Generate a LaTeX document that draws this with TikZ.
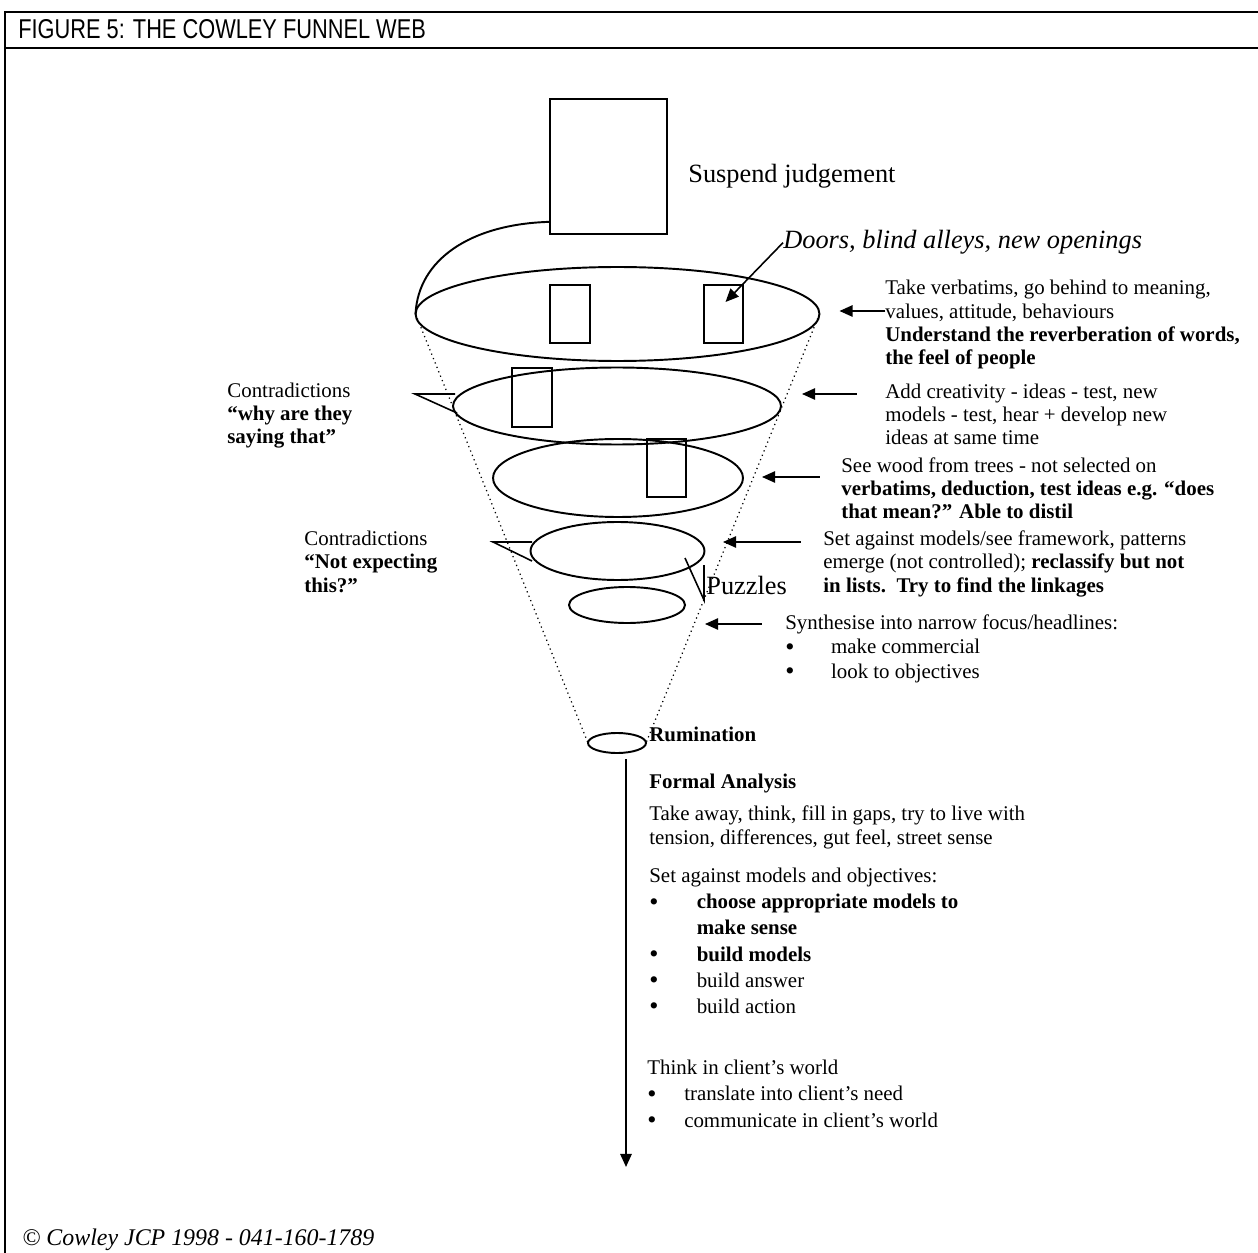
\documentclass[tikz,border=0pt]{standalone}
\usepackage{fontspec}
\usepackage{graphicx}
\setmainfont{Liberation Serif}
\newfontfamily\headfont{Liberation Sans}
\usetikzlibrary{shapes.geometric,arrows.meta,positioning,calc}
\newcommand{\bodyfont}{\fontsize{11.9pt}{13.3pt}\selectfont}
\newcommand{\bigfont}{\fontsize{15pt}{17pt}\selectfont}
\newcommand{\bul}[2]{\makebox[#1][l]{\smash{\raisebox{-0.2ex}{\scalebox{1.25}{\textbullet}}}}#2}

\begin{document}
\begin{tikzpicture}[x=0.02cm,y=-0.02cm,
  ring/.style={draw,ellipse,line width=1.1pt,inner sep=0pt,outer sep=0pt},
  door/.style={draw,rectangle,line width=1.1pt,inner sep=0pt,outer sep=0pt},
  note/.style={anchor=base west,align=left,inner sep=0pt,font=\bodyfont},
  arr/.style={-{Triangle[length=7.5pt,width=6.5pt]},line width=0.9pt},
  varr/.style={-{Triangle[length=7.5pt,width=6.5pt]},line width=1.1pt},
  cone/.style={dotted,line width=0.7pt},
  frame/.style={line width=1.2pt},
]
\useasboundingbox (0,0) rectangle (1258,1253);
% header
\draw[frame] (1258,12) -- (5,12) -- (5,1253);
\draw[frame] (5,48) -- (1258,48);
\node[note,font=\headfont\fontsize{15.5pt}{18pt}\selectfont] (title) at (18,39)
  {\scalebox{0.8}[1]{FIGURE 5: THE COWLEY FUNNEL WEB}};

% top box
\node[door,minimum width=2.34cm,minimum height=2.7cm] (judge) at (608.5,166.5) {};
\node[note,font=\bigfont] (suspend) at (688,183) {Suspend judgement};
\node[note,font=\bigfont\itshape] (doors) at (783,249)
  {Doors, blind alleys, new openings};

% funnel rings
\node[ring,minimum width=8.08cm,minimum height=1.88cm] (lvl1) at (617.5,314) {};
\node[ring,minimum width=6.56cm,minimum height=1.54cm] (lvl2) at (617,406) {};
\node[ring,minimum width=5cm,minimum height=1.56cm] (lvl3) at (618,478) {};
\node[ring,minimum width=3.48cm,minimum height=1.16cm] (lvl4) at (617.5,551) {};
\node[ring,minimum width=2.32cm,minimum height=0.72cm] (lvl5) at (627,605) {};
\node[ring,minimum width=1.16cm,minimum height=0.4cm] (rum) at (617,743) {};

% doors inside the rings
\node[door,minimum width=0.8cm,minimum height=1.16cm] (dA) at (570,314) {};
\node[door,minimum width=0.78cm,minimum height=1.16cm] (dB) at (723.5,314) {};
\node[door,minimum width=0.8cm,minimum height=1.18cm] (dC) at (532,397.5) {};
\node[door,minimum width=0.78cm,minimum height=1.16cm] (dD) at (666.5,468) {};

% funnel sides
\draw[cone] (lvl1.west) -- (rum.west);
\draw[cone] (lvl1.east) -- (rum.east);
\draw[line width=1.1pt] ($(judge.south west)!0.09!(judge.north west)$)
  .. controls (470,224) and (418,260) .. (lvl1.west);
\draw[arr] (doors.west) -- ($(dB.center)+(2,-12)$);

% notes on the right (base = last line)
\node[note] (t1) at (885,365) {Take verbatims, go behind to meaning,\\
  values, attitude, behaviours\\
  \textbf{Understand the reverberation of words,}\\
  \textbf{the feel of people}};
\node[note] (t2) at (885,445) {Add creativity - ideas - test, new\\
  models - test, hear + develop new\\
  ideas at same time};
\node[note] (t3) at (841,519) {See wood from trees - not selected on\\
  \textbf{verbatims, deduction, test ideas e.g. “does}\\
  \textbf{that mean?” Able to distil}};
\node[note] (t4) at (823,592) {Set against models/see framework, patterns\\
  emerge (not controlled); \textbf{reclassify but not}\\
  \textbf{in lists.\ \ Try to find the linkages}};
\node[note,font=\fontsize{11.9pt}{13.9pt}\selectfont] (t5) at (785,678)
  {Synthesise into narrow focus/headlines:\\
  \bul{26pt}{make commercial}\\
  \bul{26pt}{look to objectives}};

\draw[arr] ($(lvl1.east)+(66,-3)$) -- ($(lvl1.east)+(20,-3)$);
\draw[arr] ($(lvl2.east)+(76,-12)$) -- ($(lvl2.east)+(21,-12)$);
\draw[arr] ($(lvl3.east)+(77,-1)$) -- ($(lvl3.east)+(19,-1)$);
\draw[arr] ($(lvl4.east)+(96.5,-9)$) -- ($(lvl4.east)+(18.5,-9)$);
\draw[arr] ($(lvl5.east)+(77,19)$) -- ($(lvl5.east)+(20,19)$);

% contradictions and puzzles
\node[note] (con1) at (227,444) {Contradictions\\
  \textbf{“why are they}\\
  \textbf{saying that”}};
\node[note] (con2) at (304,592) {Contradictions\\
  \textbf{“Not expecting}\\
  \textbf{this?”}};
\coordinate (cp1) at (415,394);
\draw[line width=0.9pt] ($(lvl2.west)+(2,-12)$) -- (cp1) -- ($(lvl2.west)+(4,7)$);
\coordinate (cp2) at (493,542);
\draw[line width=0.9pt] ($(lvl4.west)+(1.5,-9)$) -- (cp2) -- ($(lvl4.west)+(1.5,10)$);
\node[note,font=\fontsize{15pt}{17pt}\selectfont] (puz) at (706,594) {Puzzles};
\coordinate (pz) at (704,600);
\draw[line width=0.9pt] (685,558) -- (pz) -- (704,565);

% below the funnel
\node[note,font=\bodyfont\bfseries] (rumtxt) at (649,741) {Rumination};
\coordinate (down) at (626,1167);
\draw[varr] ($(rum.south)+(9,6)$) -- (down);
\node[note,font=\bodyfont\bfseries] (formal) at (649,788) {Formal Analysis};
\node[note,font=\fontsize{11.9pt}{13.6pt}\selectfont] (away) at (649,844)
  {Take away, think, fill in gaps, try to live with\\
  tension, differences, gut feel, street sense};
\node[note,font=\fontsize{11.9pt}{14.8pt}\selectfont] (setag) at (649,1013)
  {Set against models and objectives:\\
  \bul{27pt}{\textbf{choose appropriate models to}}\\
  \hspace*{27pt}\textbf{make sense}\\
  \bul{27pt}{\textbf{build models}}\\
  \bul{27pt}{build answer}\\
  \bul{27pt}{build action}};
\node[note,font=\fontsize{11.9pt}{15pt}\selectfont] (client) at (647,1127)
  {Think in client’s world\\
  \bul{21pt}{translate into client’s need}\\
  \bul{21pt}{communicate in client’s world}};

\node[note,font=\fontsize{13.6pt}{16pt}\selectfont\itshape] (copy) at (22,1245)
  {© Cowley JCP 1998 - 041-160-1789};
\end{tikzpicture}
\end{document}
